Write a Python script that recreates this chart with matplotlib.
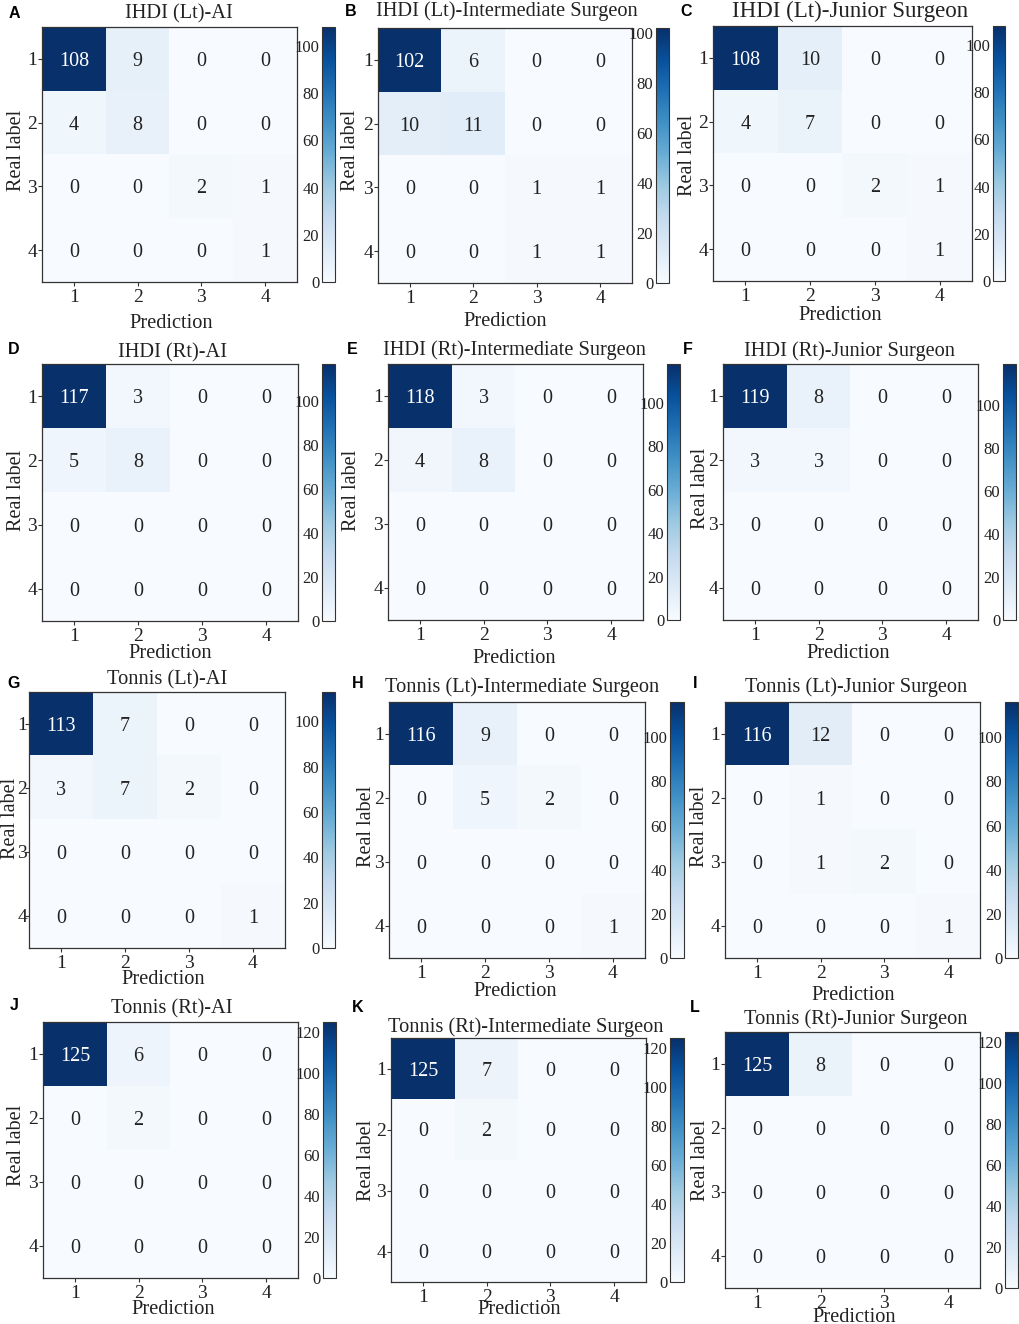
import matplotlib
matplotlib.use('Agg')
import matplotlib.pyplot as plt
import numpy as np

W, H = 1020, 1324

letters = list("ABCDEFGHIJKL")
titles = ["IHDI (Lt)-AI", "IHDI (Lt)-Intermediate Surgeon", "IHDI (Lt)-Junior Surgeon",
          "IHDI (Rt)-AI", "IHDI (Rt)-Intermediate Surgeon", "IHDI (Rt)-Junior Surgeon",
          "Tonnis (Lt)-AI", "Tonnis (Lt)-Intermediate Surgeon", "Tonnis (Lt)-Junior Surgeon",
          "Tonnis (Rt)-AI", "Tonnis (Rt)-Intermediate Surgeon", "Tonnis (Rt)-Junior Surgeon"]
class_labels = ["1", "2", "3", "4"]

cm_a = [[108, 9, 0, 0], [4, 8, 0, 0], [0, 0, 2, 1], [0, 0, 0, 1]]
cm_b = [[102, 6, 0, 0], [10, 11, 0, 0], [0, 0, 1, 1], [0, 0, 1, 1]]
cm_c = [[108, 10, 0, 0], [4, 7, 0, 0], [0, 0, 2, 1], [0, 0, 0, 1]]
cm_d = [[117, 3, 0, 0], [5, 8, 0, 0], [0, 0, 0, 0], [0, 0, 0, 0]]
cm_e = [[118, 3, 0, 0], [4, 8, 0, 0], [0, 0, 0, 0], [0, 0, 0, 0]]
cm_f = [[119, 8, 0, 0], [3, 3, 0, 0], [0, 0, 0, 0], [0, 0, 0, 0]]
cm_g = [[113, 7, 0, 0], [3, 7, 2, 0], [0, 0, 0, 0], [0, 0, 0, 1]]
cm_h = [[116, 9, 0, 0], [0, 5, 2, 0], [0, 0, 0, 0], [0, 0, 0, 1]]
cm_i = [[116, 12, 0, 0], [0, 1, 0, 0], [0, 1, 2, 0], [0, 0, 0, 1]]
cm_j = [[125, 6, 0, 0], [0, 2, 0, 0], [0, 0, 0, 0], [0, 0, 0, 0]]
cm_k = [[125, 7, 0, 0], [0, 2, 0, 0], [0, 0, 0, 0], [0, 0, 0, 0]]
cm_l = [[125, 8, 0, 0], [0, 0, 0, 0], [0, 0, 0, 0], [0, 0, 0, 0]]
matrices = [cm_a, cm_b, cm_c, cm_d, cm_e, cm_f, cm_g, cm_h, cm_i, cm_j, cm_k, cm_l]

# pixel layout of each panel: left, top, right, bottom, cbar left, cbar right
boxes = [(42, 27, 297, 282, 322, 335), (378, 28, 632, 283, 656, 669), (713, 26, 972, 281, 993, 1005),
         (42, 364, 298, 621, 322, 335), (388, 364, 643, 620, 667, 680), (723, 364, 978, 620, 1003, 1016),
         (29, 692, 285, 948, 322, 335), (389, 702, 645, 958, 670, 684), (725, 702, 980, 958, 1005, 1018),
         (43, 1022, 298, 1278, 323, 336), (391, 1038, 646, 1282, 670, 684), (725, 1032, 980, 1288, 1005, 1018)]
# title, xlabel, ylabel and panel letter positions in pixels
title_xy = [(179, 14), (507, 11), (850, 11), (173, 353), (515, 350), (850, 351),
            (167, 680), (522, 687), (856, 687), (172, 1009), (526, 1027), (856, 1019)]
xlabel_xy = [(171, 323), (505, 322), (840, 315), (170, 653), (514, 659), (848, 653),
             (163, 979), (515, 991), (853, 996), (173, 1310), (519, 1310), (854, 1317)]
ylabel_xy = [(17, 150), (351, 150), (688, 155), (17, 490), (352, 490), (701, 488),
             (11, 818), (367, 826), (700, 826), (17, 1145), (367, 1160), (701, 1160)]
letter_xy = [(14, 13), (351, 12), (686, 12), (14, 350), (352, 350), (688, 350),
             (14, 684), (358, 683), (695, 683), (14, 1006), (358, 1008), (695, 1008)]
ytick_pad = [0.5, 0.5, 0.5, 0.5, 0.5, 0.5, -1.5, 0.5, 0.5, 0.5, 0.5, 0.5]
title_size = [14.7, 14.7, 16.5, 14.7, 14.7, 14.7, 14.7, 14.7, 14.7, 14.7, 14.7, 14.7]

plt.rcParams['font.family'] = ['Liberation Serif', 'DejaVu Serif']
fig = plt.figure(figsize=(W / 100, H / 100), dpi=100)


def px_rect(l, t, r, b):
    return [l / W, 1 - b / H, (r - l) / W, (b - t) / H]


for i, cm in enumerate(matrices):
    cm = np.array(cm)
    l, t, r, b, cl, cr = boxes[i]
    ax = fig.add_axes(px_rect(l, t, r, b))
    im = ax.imshow(cm, cmap='Blues', aspect='auto')
    ax.set_xticks(range(4), class_labels)
    ax.set_yticks(range(4), class_labels)
    ax.tick_params(labelsize=14, length=3, width=0.8, color='#333333', labelcolor='#222222')
    ax.tick_params(axis='x', pad=2)
    ax.tick_params(axis='y', pad=ytick_pad[i])
    for s in ax.spines.values():
        s.set_linewidth(0.9)
        s.set_color('#333333')
    for y in range(4):
        for x in range(4):
            ax.text(x, y, str(cm[y, x]), ha='center', va='center_baseline', fontsize=14.5,
                    color='white' if cm[y, x] > cm.max() / 2 else '#222222')

    cax = fig.add_axes(px_rect(cl, t, cr, b))
    cbar = fig.colorbar(im, cax=cax)
    cbar.set_ticks(range(0, cm.max() + 1, 20))
    cax.yaxis.set_ticks_position('left')
    cax.tick_params(labelsize=12, length=0, pad=2, labelcolor='#222222')
    cbar.outline.set_linewidth(0.8)
    cbar.outline.set_edgecolor('#333333')

    fig.text(title_xy[i][0] / W, 1 - title_xy[i][1] / H, titles[i], ha='center', va='center',
             fontsize=title_size[i], color='#222222')
    fig.text(xlabel_xy[i][0] / W, 1 - xlabel_xy[i][1] / H, "Prediction", ha='center', va='center',
             fontsize=14.7, color='#222222')
    fig.text(ylabel_xy[i][0] / W, 1 - ylabel_xy[i][1] / H, "Real label", ha='center', va='center',
             rotation=90, fontsize=14.5, color='#222222')
    fig.text(letter_xy[i][0] / W, 1 - letter_xy[i][1] / H, letters[i], ha='center', va='center',
             fontsize=11.5, fontweight='bold', family=['Liberation Sans', 'DejaVu Sans'])

fig.savefig('out.png', dpi=100)
